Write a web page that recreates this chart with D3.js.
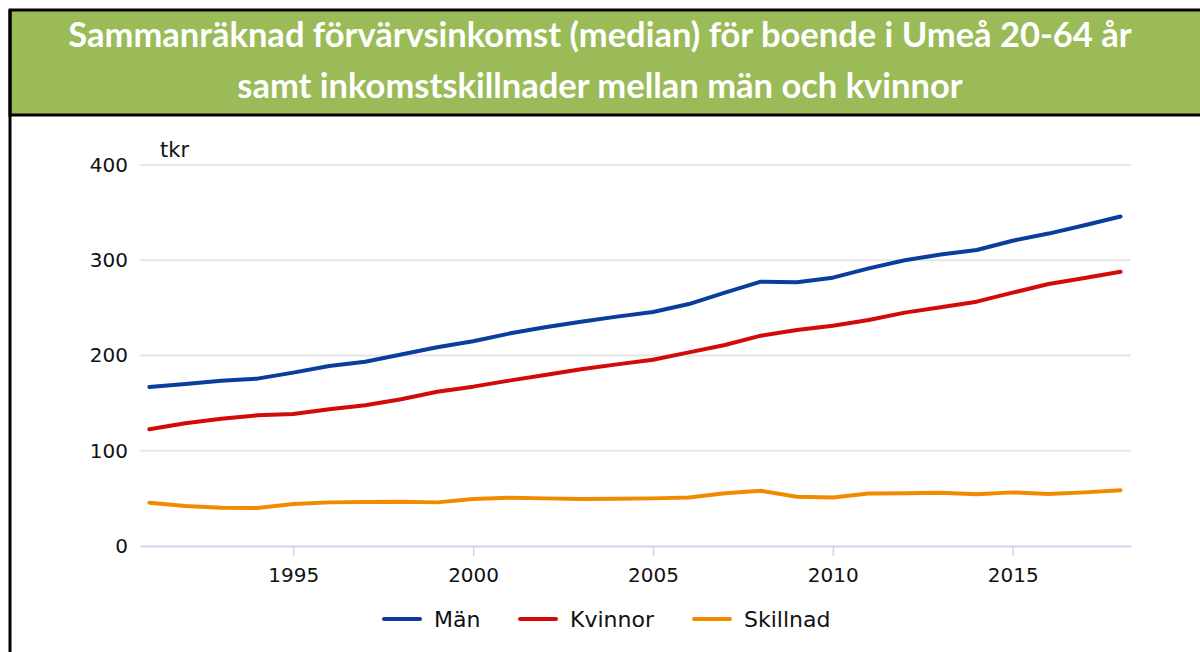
<!DOCTYPE html>
<html>
<head>
<meta charset="utf-8">
<script src="https://cdn.jsdelivr.net/npm/d3@7"></script>
<style>
  body { margin: 0; background: #fff; }
  svg { display: block; }
</style>
</head>
<body>
<div id="chart"></div>
<script>

// Data
var years = d3.range(1991, 2019)
var man = [167, 170, 173.5, 175.7, 182, 189, 193.5, 201, 208.6, 215,
           223, 229.6, 235.5, 240.8, 245.7, 254, 266, 277.5, 277, 281.7,
           291.5, 300, 306, 310.8, 320.5, 328, 336.7, 346]
var kvinnor = [122.5, 128.8, 133.7, 137.2, 138.6, 143.5, 147.7, 154, 162, 167.3,
               173.6, 179.5, 185.5, 190.7, 195.6, 203.3, 211, 220.8, 226.8, 231.3,
               237.3, 245, 250.6, 256.5, 266, 275, 281.4, 288]
var skillnad = [45.5, 42, 40.2, 39.9, 44, 45.8, 46.2, 46.5, 45.8, 49.3,
                50.7, 50, 49.3, 49.7, 50, 51, 55.3, 58, 51.8, 51,
                55, 55.3, 56, 54.3, 56.3, 54.6, 56.3, 58.5]
var yTicks = [0, 100, 200, 300, 400]
var xTicks = [1995, 2000, 2005, 2010, 2015]
var seriesNames = ["Män", "Kvinnor", "Skillnad"]
var seriesColors = ["#0a3d9c", "#d20a0a", "#f28a00"]
var titleLines = ["Sammanräknad förvärvsinkomst (median) för boende i Umeå 20-64 år",
                  "samt inkomstskillnader mellan män och kvinnor"]

var width = 1200
var height = 652

var svg = d3.select("#chart")
  .append("svg")
    .attr("width", width)
    .attr("height", height)

// header box
svg.append("rect")
  .attr("x", 10).attr("y", 10)
  .attr("width", width + 10).attr("height", 105)
  .attr("fill", "#9bbb59")
  .attr("stroke", "#000")
  .attr("stroke-width", 3)

// left border
svg.append("line")
  .attr("x1", 10).attr("x2", 10)
  .attr("y1", 10).attr("y2", height + 5)
  .attr("stroke", "#000")
  .attr("stroke-width", 3)

svg.selectAll(".title")
  .data(titleLines)
  .enter()
  .append("text")
    .attr("class", "title")
    .attr("x", 600)
    .attr("y", function(d, i) { return 47 + i * 51 })
    .attr("text-anchor", "middle")
    .style("font-family", "Lato, sans-serif")
    .style("font-weight", "bold")
    .style("font-size", "34.5px")
    .style("fill", "#fff")
    .text(function(d) { return d })

// scales
var x = d3.scaleLinear()
  .domain([1990.74, 2018.29])
  .range([140, 1131])

var y = d3.scaleLinear()
  .domain([0, 400])
  .range([546, 165])

var font = "'DejaVu Sans', Verdana, sans-serif"

// grid
svg.append("g")
  .selectAll("line")
  .data(yTicks.filter(d => d > 0))
  .enter()
  .append("line")
    .attr("x1", 140).attr("x2", 1131)
    .attr("y1", d => y(d)).attr("y2", d => y(d))
    .attr("stroke", "#e6e6e6")
    .attr("stroke-width", 2)

// y axis labels
var yAxis = svg.append("g")
  .attr("transform", "translate(140,0)")
  .call(d3.axisLeft(y).tickValues(yTicks).tickSize(0).tickPadding(12))
yAxis.select(".domain").remove()
yAxis.selectAll("text")
  .style("font-family", font)
  .style("font-size", "20px")
  .style("fill", "#111")

svg.append("text")
  .attr("x", 160)
  .attr("y", 157)
  .style("font-family", font)
  .style("font-size", "21px")
  .style("fill", "#111")
  .text("tkr")

// x axis
var xAxis = svg.append("g")
  .attr("transform", "translate(0,546)")
  .call(d3.axisBottom(x).tickValues(xTicks).tickFormat(d3.format("d")).tickSize(10).tickSizeOuter(0).tickPadding(12))
xAxis.select(".domain").attr("stroke", "#ccd6eb").attr("stroke-width", 2)
xAxis.selectAll(".tick line").attr("stroke", "#ccd6eb").attr("stroke-width", 1.5)
xAxis.selectAll("text")
  .style("font-family", font)
  .style("font-size", "20px")
  .style("fill", "#111")

// lines
var allSeries = [man, kvinnor, skillnad]
var line = d3.line()
  .x(function(d, i) { return x(years[i]) })
  .y(function(d) { return y(d) })

svg.append("g")
  .selectAll("path")
  .data(allSeries)
  .enter()
  .append("path")
    .attr("d", d => line(d))
    .attr("fill", "none")
    .attr("stroke", (d, i) => seriesColors[i])
    .attr("stroke-width", 4)
    .attr("stroke-linejoin", "round")
    .attr("stroke-linecap", "round")

// legend
var legendX = [384, 520, 694]
var legend = svg.append("g")
  .selectAll("g")
  .data(seriesNames)
  .enter()
  .append("g")
    .attr("transform", (d, i) => "translate(" + legendX[i] + ",619)")

legend.append("line")
  .attr("x1", 0).attr("x2", 36)
  .attr("stroke", (d, i) => seriesColors[i])
  .attr("stroke-width", 4)
  .attr("stroke-linecap", "round")

legend.append("text")
  .attr("x", 50)
  .attr("dy", "0.35em")
  .style("font-family", font)
  .style("font-size", "22px")
  .style("fill", "#111")
  .text(d => d)

</script>
</body>
</html>
